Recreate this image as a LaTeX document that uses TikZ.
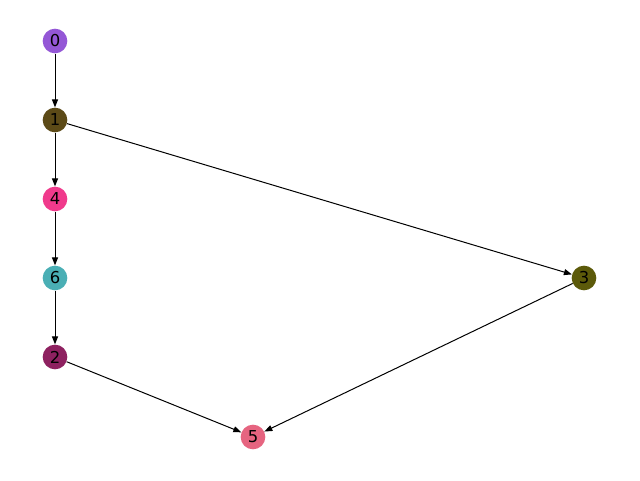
\documentclass[tikz,border=0pt]{standalone}
\usepackage{fontspec}
\setmainfont{DejaVu Sans}
\usetikzlibrary{arrows.meta}
\definecolor{c0}{HTML}{9457D6}
\definecolor{c1}{HTML}{5C4A17}
\definecolor{c4}{HTML}{F03A8C}
\definecolor{c6}{HTML}{4AAFB5}
\definecolor{c2}{HTML}{8E2160}
\definecolor{c5}{HTML}{E66480}
\definecolor{c3}{HTML}{5C5A0A}
\begin{document}
\begin{tikzpicture}[x=0.75pt,y=-0.75pt,
  vtx/.style={circle,inner sep=0pt,minimum size=18.5pt,font=\fontsize{12.3}{14}\selectfont,text=black},
  edge/.style={draw=black,line width=0.75pt,-{Triangle[length=6pt,width=4.5pt]}}]
\useasboundingbox (0,0) rectangle (640,480);
\node[vtx,fill=c0] (n0) at (55,41) {0};
\node[vtx,fill=c1] (n1) at (55,120) {1};
\node[vtx,fill=c4] (n4) at (55,199) {4};
\node[vtx,fill=c6] (n6) at (55,278) {6};
\node[vtx,fill=c2] (n2) at (55,357) {2};
\node[vtx,fill=c5] (n5) at (253,437) {5};
\node[vtx,fill=c3] (n3) at (584,278) {3};
\draw[edge] (n0) -- (n1);
\draw[edge] (n1) -- (n4);
\draw[edge] (n1) -- (n3);
\draw[edge] (n4) -- (n6);
\draw[edge] (n6) -- (n2);
\draw[edge] (n2) -- (n5);
\draw[edge] (n3) -- (n5);
\end{tikzpicture}
\end{document}
